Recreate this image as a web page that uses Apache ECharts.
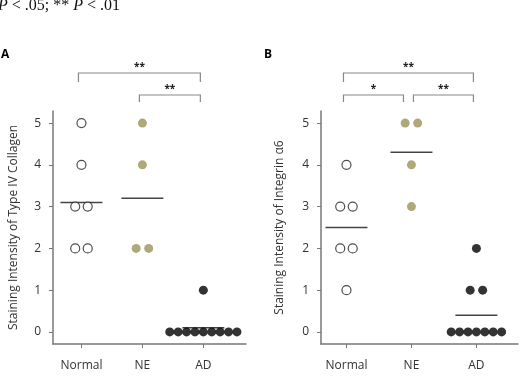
<!DOCTYPE html>
<html>
<head>
    <meta charset="utf-8">
    <title>Staining intensity</title>
    <style>
        *{ margin: 0; padding: 0; box-sizing: border-box; }
        html, body, #chart{ width: 520px; height: 392px; overflow: hidden; background: #fff; }
    </style>
</head>
<body>
    <div id="chart"></div>
    <script src="https://cdn.jsdelivr.net/npm/echarts@6/dist/echarts.min.js"></script>
    <script>
        // groups and tick labels
        var categories = ['Normal', 'NE', 'AD'];
        var yTicks = [0, 1, 2, 3, 4, 5];

        // A: type IV collagen scores
        var collagenNormal = [5, 4, 3, 3, 2, 2];
        var collagenNE = [5, 4, 2, 2];
        var collagenAD = [1, 0, 0, 0, 0, 0, 0, 0, 0, 0];
        var collagenMeans = [3.1, 3.2, 0.1];
        // [from, to, level, stars]
        var collagenSig = [[1, 3, 1, '**'], [2, 3, 0, '**']];

        // B: integrin a6 scores
        var integrinNormal = [4, 3, 3, 2, 2, 1];
        var integrinNE = [5, 5, 4, 3];
        var integrinAD = [2, 1, 1, 0, 0, 0, 0, 0, 0, 0];
        var integrinMeans = [2.5, 4.3, 0.4];
        var integrinSig = [[1, 3, 1, '**'], [1, 2, 0, '*'], [2, 3, 0, '**']];

        var FONT = '"Open Sans", sans-serif';
        var AXIS = '#777';
        var groupStyle = [
            { color: '#fff', borderColor: '#222', borderWidth: 1.2 },
            { color: '#9b9458' },
            { color: '#000' }
        ];

        // spread equal scores side by side
        function swarm(values, cat) {
            var counts = {};
            values.forEach(function (v) { counts[v] = (counts[v] || 0) + 1; });
            var seen = {};
            return values.map(function (v) {
                var n = counts[v];
                var i = seen[v] = (seen[v] === undefined ? 0 : seen[v] + 1);
                var step = n > 3 ? 8.4 : 12.5;
                return { value: [cat, v], symbolOffset: [(i - (n - 1) / 2) * step, 0] };
            });
        }

        function dotSeries(values, g, gi) {
            return {
                type: 'scatter', xAxisIndex: gi, yAxisIndex: gi,
                symbol: 'circle', symbolSize: 9, z: 3,
                itemStyle: groupStyle[g],
                data: swarm(values, g + 1),
                silent: true
            };
        }

        function meanSeries(means, gi) {
            return {
                type: 'custom', xAxisIndex: gi, yAxisIndex: gi, z: 2, silent: true,
                data: means.map(function (m, i) { return [i + 1, m]; }),
                renderItem: function (params, api) {
                    var p = api.coord([api.value(0), api.value(1)]);
                    return { type: 'line',
                        shape: { x1: p[0] - 21, y1: p[1], x2: p[0] + 21, y2: p[1] },
                        style: { stroke: '#444', lineWidth: 1.5 } };
                }
            };
        }

        function sigSeries(sig, gi) {
            return {
                type: 'custom', xAxisIndex: gi, yAxisIndex: gi, z: 4, silent: true, clip: false,
                data: sig.map(function (s) { return [s[0], 5]; }),
                renderItem: function (params, api) {
                    var s = sig[params.dataIndex];
                    var x1 = api.coord([s[0], 5])[0] - 3;
                    var x2 = api.coord([s[1], 5])[0] - 3;
                    sig.forEach(function (o) {
                        if (o !== s && o[2] === s[2]) {
                            if (o[0] === s[1]) x2 -= 5;
                            if (o[1] === s[0]) x1 += 5;
                        }
                    });
                    var y = params.coordSys.y - (s[2] ? 38 : 16);
                    var leg = s[2] ? 9 : 7;
                    return { type: 'group', children: [
                        { type: 'polyline',
                          shape: { points: [[x1, y + leg], [x1, y], [x2, y], [x2, y + leg]] },
                          style: { stroke: '#888', lineWidth: 1.2, fill: null } },
                        { type: 'text',
                          style: { text: s[3], x: (x1 + x2) / 2, y: y - 6, align: 'center', verticalAlign: 'middle',
                                   font: 'bold 10px ' + FONT, fill: '#222' } }
                    ] };
                }
            };
        }

        function xAxis(gi, min, max) {
            return {
                type: 'value', gridIndex: gi, min: min, max: max,
                axisLine: { show: true, onZero: false, lineStyle: { color: AXIS, width: 1.5 } },
                axisTick: { show: true, length: 4, customValues: [1, 2, 3], lineStyle: { color: AXIS } },
                axisLabel: { customValues: [1, 2, 3], margin: 16, color: '#333', fontSize: 12, fontFamily: FONT,
                             formatter: function (v) { return categories[Math.round(v) - 1]; } },
                splitLine: { show: false }
            };
        }

        function yAxis(gi, name, gap) {
            return {
                type: 'value', gridIndex: gi, min: -0.29, max: 5.29,
                name: name, nameLocation: 'middle', nameGap: gap,
                nameTextStyle: { color: '#333', fontSize: 12, fontFamily: FONT },
                axisLine: { show: true, onZero: false, lineStyle: { color: AXIS, width: 1.5 } },
                axisTick: { show: true, length: 4, customValues: yTicks, lineStyle: { color: AXIS } },
                axisLabel: { customValues: yTicks, margin: 12, color: '#333', fontSize: 12, fontFamily: FONT },
                splitLine: { show: false }
            };
        }

        var myChart = echarts.init(document.getElementById('chart'));

        var option = {
            animation: false,
            backgroundColor: '#fff',
            grid: [
                { left: 53, right: 274, top: 111, bottom: 48 },
                { left: 321, right: 2, top: 111, bottom: 48 }
            ],
            xAxis: [xAxis(0, 0.533, 3.70), xAxis(1, 0.608, 3.64)],
            yAxis: [
                yAxis(0, 'Staining Intensity of Type IV Collagen', 33),
                yAxis(1, 'Staining Intensity of Integrin \u03b16', 35)
            ],
            graphic: [
                { type: 'text', left: -2, top: -2,
                  style: { text: '{i|P} < .05; ** {i|P} < .01', font: '16px "Liberation Serif", serif', fill: '#111',
                           rich: { i: { fontStyle: 'italic', fontSize: 16, fontFamily: '"Liberation Serif", serif' } } } },
                { type: 'text', left: 1, top: 49, style: { text: 'A', font: 'bold 12px ' + FONT, fill: '#000' } },
                { type: 'text', left: 264, top: 49, style: { text: 'B', font: 'bold 12px ' + FONT, fill: '#000' } }
            ],
            series: [
                dotSeries(collagenNormal, 0, 0),
                dotSeries(collagenNE, 1, 0),
                dotSeries(collagenAD, 2, 0),
                meanSeries(collagenMeans, 0),
                sigSeries(collagenSig, 0),
                dotSeries(integrinNormal, 0, 1),
                dotSeries(integrinNE, 1, 1),
                dotSeries(integrinAD, 2, 1),
                meanSeries(integrinMeans, 1),
                sigSeries(integrinSig, 1)
            ]
        };

        myChart.setOption(option, true);
    </script>
</body>
</html>
